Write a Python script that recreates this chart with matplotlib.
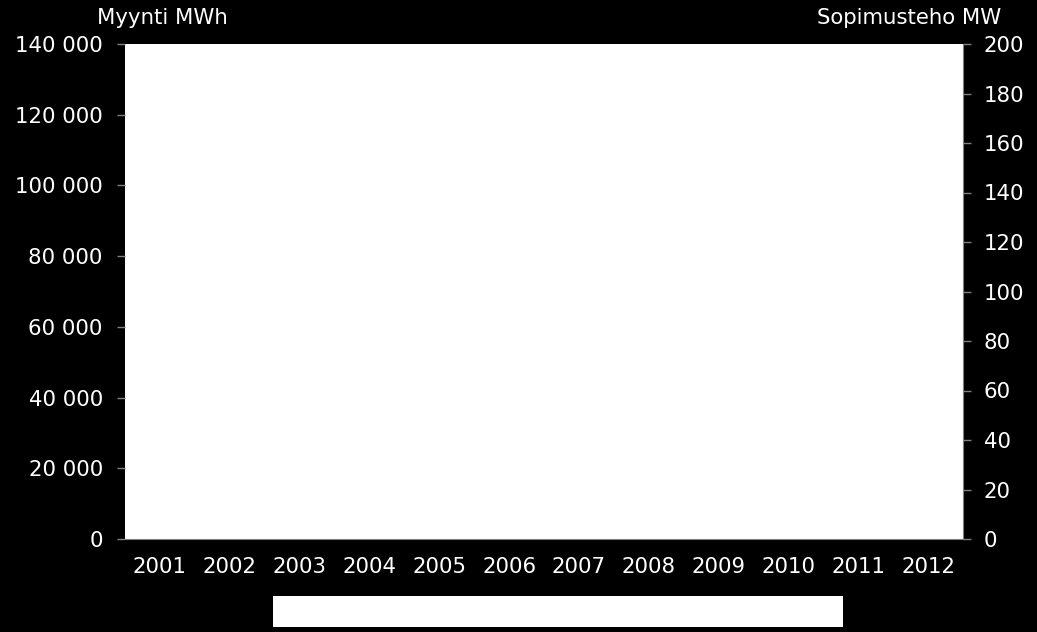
import numpy as np
import matplotlib.pyplot as plt
from matplotlib.patches import Rectangle

# kategoriat ja sarjat (kuvassa ei näy arvoja)
years = [str(y) for y in range(2001, 2013)]
myynti_mwh = [np.nan] * len(years)
sopimusteho_mw = [np.nan] * len(years)
left_ticks = [0, 20000, 40000, 60000, 80000, 100000, 120000, 140000]
right_ticks = [0, 20, 40, 60, 80, 100, 120, 140, 160, 180, 200]

plt.rcParams['font.family'] = ['DejaVu Sans']
fs = 15.3
grey = '#808080'

fig = plt.figure(figsize=(10.37, 6.32), dpi=100, facecolor='black')
ax = fig.add_axes([125/1037, 1 - 539/632, (963-125)/1037, (539-44)/632])
ax.set_facecolor('white')

x = np.arange(len(years))
ax.bar(x, myynti_mwh, width=0.6, color='#4f81bd')
ax.set_xlim(-0.5, len(years) - 0.5)
ax.set_ylim(0, 140000)
ax.set_yticks(left_ticks)
ax.set_yticklabels([f"{v:,}".replace(",", " ") for v in left_ticks])
ax.set_xticks(x)
ax.set_xticklabels(years)

ax2 = ax.twinx()
ax2.plot(x, sopimusteho_mw, color='#c0504d')
ax2.set_ylim(0, 200)
ax2.set_yticks(right_ticks)

for a in (ax, ax2):
    for s in a.spines.values():
        s.set_visible(False)
    a.tick_params(colors=grey, labelcolor='white', labelsize=fs, length=6, width=1)
ax.spines['bottom'].set_visible(True)
ax.spines['bottom'].set_color(grey)
ax2.spines['right'].set_visible(True)
ax2.spines['right'].set_color(grey)
ax.tick_params(axis='x', length=0, pad=13)
ax.tick_params(axis='y', pad=10)
ax2.tick_params(axis='y', pad=9)

fig.text(97/1037, 1 - 18/632, 'Myynti MWh', color='white', fontsize=fs, va='center', ha='left')
fig.text(1001/1037, 1 - 18/632, 'Sopimusteho MW', color='white', fontsize=fs, va='center', ha='right')

# tyhjä selitelaatikko
fig.patches.append(Rectangle((273/1037, 1 - 627/632), (843-273)/1037, 31/632,
                             transform=fig.transFigure, facecolor='white', edgecolor='none'))

fig.savefig('out.png', dpi=100, facecolor='black')
